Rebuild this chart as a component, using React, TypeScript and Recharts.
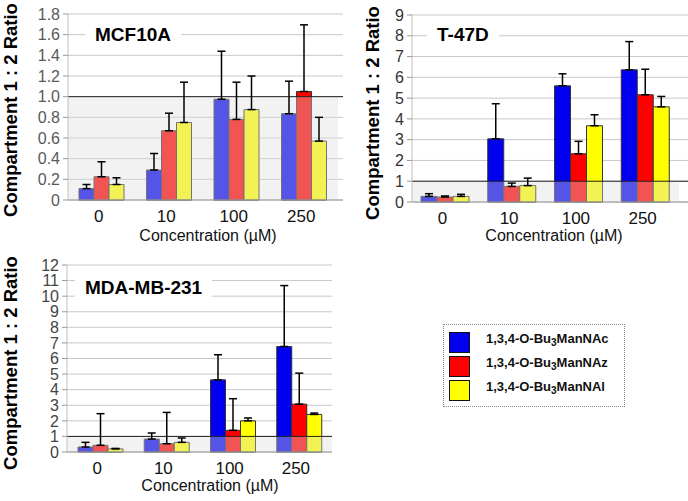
import {
  BarChart,
  Bar,
  XAxis,
  YAxis,
  CartesianGrid,
  ErrorBar,
  ReferenceArea,
  ReferenceLine,
} from "recharts";

// Three cell-line panels (compartment 1:2 ratio vs. concentration) + shared legend.
// Values; error bars are one-sided (upper only).

const CONC = ["0", "10", "100", "250"];

const SERIES = ["1,3,4-O-Bu3ManNAc", "1,3,4-O-Bu3ManNAz", "1,3,4-O-Bu3ManNAl"];
const COLORS = ["#0000ee", "#ff0000", "#ffff00"];

// MCF10A
const mcfAc = [0.11, 0.29, 0.975, 0.835];
const mcfAcErr = [0.04, 0.16, 0.465, 0.315];
const mcfAz = [0.225, 0.67, 0.78, 1.05];
const mcfAzErr = [0.145, 0.17, 0.36, 0.645];
const mcfAl = [0.15, 0.75, 0.875, 0.57];
const mcfAlErr = [0.065, 0.39, 0.325, 0.23];

// T-47D
const t47Ac = [0.27, 3.04, 5.59, 6.36];
const t47AcErr = [0.13, 1.69, 0.58, 1.36];
const t47Az = [0.24, 0.75, 2.32, 5.16];
const t47AzErr = [0.05, 0.16, 0.6, 1.23];
const t47Al = [0.27, 0.79, 3.67, 4.58];
const t47AlErr = [0.1, 0.36, 0.53, 0.5];

// MDA-MB-231
const mdaAc = [0.32, 0.83, 4.63, 6.77];
const mdaAcErr = [0.3, 0.39, 1.61, 3.91];
const mdaAz = [0.43, 0.53, 1.39, 3.07];
const mdaAzErr = [2.03, 2.01, 2.03, 1.99];
const mdaAl = [0.2, 0.62, 2.0, 2.41];
const mdaAlErr = [0.03, 0.28, 0.18, 0.09];

const mcfTicks = [0, 0.2, 0.4, 0.6, 0.8, 1, 1.2, 1.4, 1.6, 1.8];
const t47Ticks = [0, 1, 2, 3, 4, 5, 6, 7, 8, 9];
const mdaTicks = [0, 1, 2, 3, 4, 5, 6, 7, 8, 9, 10, 11, 12];

const FONT = "'Liberation Sans', Arial, sans-serif";

const build = (
  ac: number[], acE: number[], az: number[], azE: number[], al: number[], alE: number[]
) =>
  CONC.map((c, i) => ({
    conc: c,
    ac: ac[i],
    acErr: [0, acE[i]],
    az: az[i],
    azErr: [0, azE[i]],
    al: al[i],
    alErr: [0, alE[i]],
  }));

type PanelProps = {
  data: any[];
  left: number;
  top: number;
  width: number;
  height: number;
  margin: { top: number; right: number; bottom: number; left: number };
  yWidth: number;
  xHeight: number;
  max: number;
  ticks: number[];
  fmt: (v: number) => string;
  yTickColor: string;
  padRight: number;
  barSize: number;
  yTitle: [number, number];
  xTitle: [number, number];
};

function Panel(p: PanelProps) {
  const keys = ["ac", "az", "al"];
  return (
    <div style={{ position: "absolute", left: p.left, top: p.top }}>
      <BarChart
        width={p.width}
        height={p.height}
        data={p.data}
        margin={p.margin}
        barSize={p.barSize}
        barGap={0}
      >
        <CartesianGrid horizontal vertical={false} stroke="#c8c8c8" />
        <XAxis
          dataKey="conc"
          height={p.xHeight}
          padding={{ left: 0, right: p.padRight }}
          tickLine={false}
          axisLine={{ stroke: "#999" }}
          tick={{ fontSize: 17, fill: "#111", fontFamily: FONT, dx: -3 }}
          tickMargin={4}
          label={{
            content: () => (
              <text
                x={p.xTitle[0]}
                y={p.xTitle[1]}
                textAnchor="middle"
                fontSize={16}
                fontFamily={FONT}
                fill="#111"
              >
                Concentration (µM)
              </text>
            ),
          }}
        />
        <YAxis
          width={p.yWidth}
          domain={[0, p.max]}
          ticks={p.ticks}
          interval={0}
          tickFormatter={p.fmt}
          tickSize={5}
          tickMargin={3}
          tickLine={{ stroke: "#999" }}
          axisLine={{ stroke: "#c0c0c0" }}
          tick={{ fontSize: 16, fill: p.yTickColor, fontFamily: FONT }}
          label={{
            content: () => (
              <text
                transform={`translate(${p.yTitle[0]},${p.yTitle[1]}) rotate(-90)`}
                textAnchor="middle"
                fontSize={18.5}
                fontWeight="bold"
                fontFamily={FONT}
                fill="#000"
              >
                Compartment 1 : 2 Ratio
              </text>
            ),
          }}
        />
        {keys.map((k, i) => (
          <Bar
            key={k}
            dataKey={k}
            name={SERIES[i]}
            fill={COLORS[i]}
            stroke="#333"
            strokeWidth={1}
            isAnimationActive={false}
          >
            <ErrorBar
              dataKey={k + "Err"}
              direction="y"
              width={4}
              stroke="#000"
              strokeWidth={1.5}
            />
          </Bar>
        ))}
        <ReferenceArea
          y1={0}
          y2={1}
          fill="#dcdcdc"
          fillOpacity={0.38}
          stroke="none"
          zIndex={350}
        />
        <ReferenceLine y={1} stroke="#222" strokeWidth={1} zIndex={360} />
      </BarChart>
    </div>
  );
}

function Title({ text, left, top }: { text: string; left: number; top: number }) {
  return (
    <div
      style={{
        position: "absolute",
        left,
        top,
        background: "#fff",
        padding: "0 10px",
        font: `bold 19px ${FONT}`,
        lineHeight: "22px",
        color: "#000",
        whiteSpace: "nowrap",
      }}
    >
      {text}
    </div>
  );
}

function Label3({ name }: { name: string }) {
  // render the "3" of Bu3 as a subscript
  const [a, b] = name.split("Bu3");
  return (
    <span>
      {a}Bu<sub style={{ fontSize: 10, verticalAlign: "-3px" }}>3</sub>
      {b}
    </span>
  );
}

export default function App() {
  const fmt1 = (v: number) => (v === 0 ? "0" : v.toFixed(1));
  const fmt0 = (v: number) => String(v);
  return (
    <div
      style={{
        position: "absolute",
        left: 0,
        top: 0,
        width: 688,
        height: 501,
        background: "#fff",
        overflow: "hidden",
        fontFamily: FONT,
      }}
    >
      <Panel
        data={build(mcfAc, mcfAcErr, mcfAz, mcfAzErr, mcfAl, mcfAlErr)}
        left={0}
        top={0}
        width={344}
        height={250}
        margin={{ top: 14, right: 1, bottom: 0, left: 0 }}
        yWidth={68}
        xHeight={50}
        max={1.8}
        ticks={mcfTicks}
        fmt={fmt1}
        yTickColor="#595959"
        padRight={5}
        barSize={15}
        yTitle={[17, 110]}
        xTitle={[208, 241]}
      />
      <Panel
        data={build(t47Ac, t47AcErr, t47Az, t47AzErr, t47Al, t47AlErr)}
        left={344}
        top={0}
        width={344}
        height={250}
        margin={{ top: 15, right: 0, bottom: 0, left: 0 }}
        yWidth={68}
        xHeight={48}
        max={9}
        ticks={t47Ticks}
        fmt={fmt0}
        yTickColor="#333"
        padRight={9}
        barSize={16}
        yTitle={[35, 113]}
        xTitle={[210, 241]}
      />
      <Panel
        data={build(mdaAc, mdaAcErr, mdaAz, mdaAzErr, mdaAl, mdaAlErr)}
        left={0}
        top={250}
        width={340}
        height={251}
        margin={{ top: 15, right: 8, bottom: 0, left: 0 }}
        yWidth={67}
        xHeight={49}
        max={12}
        ticks={mdaTicks}
        fmt={fmt0}
        yTickColor="#444"
        padRight={0}
        barSize={15}
        yTitle={[17, 113]}
        xTitle={[210, 241]}
      />
      <Title text="MCF10A" left={85} top={24} />
      <Title text="T-47D" left={427} top={24} />
      <Title text="MDA-MB-231" left={75} top={277} />
      <div
        style={{
          position: "absolute",
          left: 443,
          top: 324,
          width: 180,
          height: 81,
          border: "1px dotted #888",
          background: "#fff",
        }}
      >
        {SERIES.map((s, i) => (
          <div
            key={s}
            style={{
              position: "absolute",
              left: 5,
              top: 6 + i * 24,
              height: 22,
              display: "flex",
              alignItems: "center",
            }}
          >
            <div
              style={{
                width: 19,
                height: 19,
                background: COLORS[i],
                border: "1px solid #111",
              }}
            />
            <div
              style={{
                marginLeft: 16,
                font: `bold 13px ${FONT}`,
                color: "#111",
                marginTop: -6,
              }}
            >
              <Label3 name={s} />
            </div>
          </div>
        ))}
      </div>
    </div>
  );
}
